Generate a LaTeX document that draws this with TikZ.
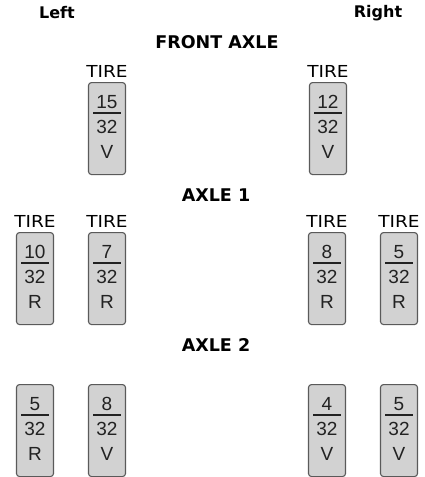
\documentclass[tikz,border=0pt]{standalone}
\usepackage{fontspec}
\setmainfont{Liberation Sans}
\newfontfamily\dvfont{DejaVu Sans}
\definecolor{tirefill}{HTML}{D2D2D2}
\definecolor{tireedge}{HTML}{5A5A5A}
\definecolor{inkdark}{HTML}{222222}
\tikzset{
  heading/.style={font=\dvfont\bfseries\fontsize{16}{16}\selectfont, text=black, inner sep=0pt},
  axlehead/.style={font=\dvfont\bfseries\fontsize{17.5}{17.5}\selectfont, text=black, inner sep=0pt},
  tirelabel/.style={font=\dvfont\fontsize{16.5}{16.5}\selectfont, text=black, inner sep=0pt},
  tirebox/.style={draw=tireedge, fill=tirefill, line width=1.1pt, rounded corners=3pt,
    minimum width=37pt, minimum height=92pt, inner sep=0pt, anchor=north},
  tiretext/.style={font=\fontsize{19}{19}\selectfont, text=inkdark, inner sep=0pt},
  fracline/.style={draw=inkdark, line width=1.6pt},
}
\newcommand\tirecol[6]{% name, x, ytop, num, letter, show label
  \node[tirebox] (#1) at (#2,#3) {};
  \node[tiretext] (#1-n) at ([yshift=-20pt]#1.north) {#4};
  \coordinate (#1-la) at ([xshift=-14pt,yshift=-31pt]#1.north);
  \coordinate (#1-lb) at ([xshift=14pt,yshift=-31pt]#1.north);
  \draw[fracline] (#1-la) -- (#1-lb);
  \node[tiretext] (#1-d) at ([yshift=-44.5pt]#1.north) {32};
  \node[tiretext] (#1-l) at ([yshift=-70pt]#1.north) {#5};
  \ifx#6y\node[tirelabel] (#1-t) at ([yshift=11pt]#1.north) {\scalebox{1.12}[1]{TIRE}};\fi
}
\begin{document}
\begin{tikzpicture}[x=1pt,y=-1pt]
\useasboundingbox (0,0) rectangle (424,477);
\node[heading] (left) at (57,13) {Left};
\node[heading] (right) at (378,13) {Right};
\node[axlehead] (front) at (217,42) {FRONT AXLE};
\tirecol{fl}{107}{82}{15}{V}{y}
\tirecol{fr}{328}{82}{12}{V}{y}
\node[axlehead] (axa) at (216,195) {AXLE 1};
\tirecol{aa}{35}{232}{10}{R}{y}
\tirecol{ab}{107}{232}{7}{R}{y}
\tirecol{ac}{327}{232}{8}{R}{y}
\tirecol{ad}{399}{232}{5}{R}{y}
\node[axlehead] (axb) at (216,345) {AXLE 2};
\tirecol{ba}{35}{384}{5}{R}{n}
\tirecol{bb}{107}{384}{8}{V}{n}
\tirecol{bc}{327}{384}{4}{V}{n}
\tirecol{bd}{399}{384}{5}{V}{n}
\end{tikzpicture}
\end{document}
